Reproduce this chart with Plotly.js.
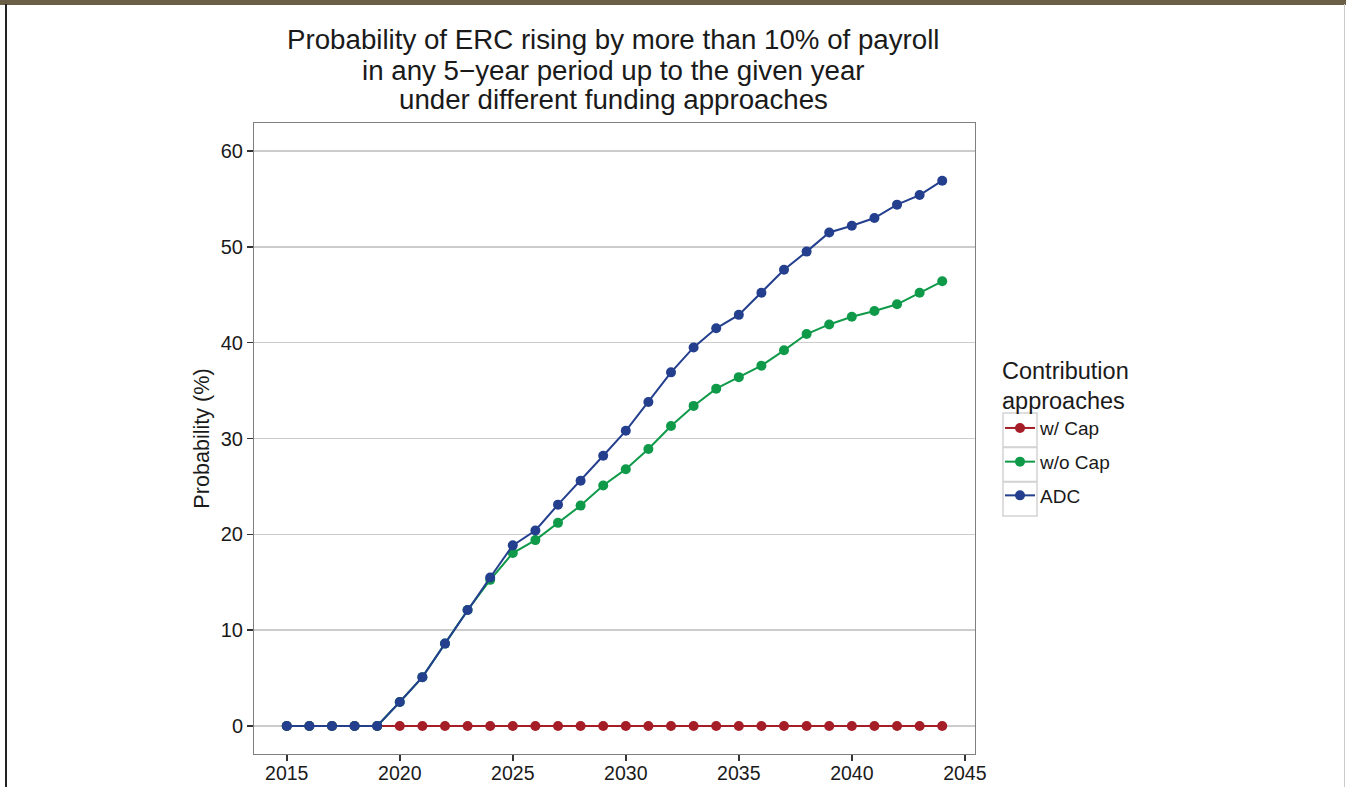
<!DOCTYPE html>
<html>
<head>
<meta charset="utf-8">
<script src="https://cdn.plot.ly/plotly-3.0.1.min.js"></script>
<style>
html,body{margin:0;padding:0;background:#fff;}
#chart{position:absolute;left:0;top:0;width:1346px;height:787px;}
#banner{position:absolute;left:0;top:0;width:1346px;height:5px;background:#6b5f48;z-index:5;}
#lborder{position:absolute;left:5px;top:4px;width:2px;height:783px;background:#222;z-index:5;}
#rborder{position:absolute;left:1344px;top:4px;width:1px;height:783px;background:#ccc;z-index:5;}
</style>
</head>
<body>
<div id="chart"></div>
<div id="banner"></div>
<div id="lborder"></div>
<div id="rborder"></div>
<script>
const years = [2015,2016,2017,2018,2019,2020,2021,2022,2023,2024,2025,2026,2027,2028,2029,2030,2031,2032,2033,2034,2035,2036,2037,2038,2039,2040,2041,2042,2043,2044];
const withCap = [0,0,0,0,0,0,0,0,0,0,0,0,0,0,0,0,0,0,0,0,0,0,0,0,0,0,0,0,0,0];
const withoutCap = [0,0,0,0,0,2.5,5.1,8.6,12.1,15.25,18.05,19.4,21.2,23.0,25.1,26.8,28.9,31.3,33.4,35.2,36.4,37.6,39.2,40.9,41.9,42.7,43.3,44.0,45.2,46.4];
const adc = [0,0,0,0,0,2.5,5.1,8.6,12.1,15.5,18.85,20.4,23.1,25.6,28.2,30.8,33.8,36.9,39.5,41.5,42.9,45.2,47.6,49.5,51.5,52.2,53.0,54.4,55.4,56.9];
const seriesNames = ["w/ Cap","w/o Cap","ADC"];
const seriesColors = ["#a51d26","#0f9a4a","#233f8e"];
const yTicks = [0,10,20,30,40,50,60];
const xTicks = [2015,2020,2025,2030,2035,2040,2045];
const titleLines = ["Probability of ERC rising by more than 10% of payroll","in any 5\u2212year period up to the given year","under different funding approaches"];

const allSeries = [withCap, withoutCap, adc];
const traces = allSeries.map((vals,i)=>({
  x: years, y: vals, name: seriesNames[i], legendgroup: 'g'+i, type: 'scatter', mode: 'lines+markers',
  line: {color: seriesColors[i], width: 2},
  marker: {color: seriesColors[i], size: 10}
}));

// plot area in pixels: left 254, right 975, top 123, bottom 754
const PL = 254, PR = 975, PT = 123, PB = 754;
const px2x = p => (p - PL) / (PR - PL);
const py2y = p => (PB - p) / (PB - PT);

const font = "Liberation Sans, Arial, Helvetica, sans-serif";
const titleY = [40, 71, 100];
const annotations = titleLines.map((t,i)=>({
  text: t, xref: 'paper', yref: 'paper', x: px2x(613), y: py2y(titleY[i]), xanchor: 'center', yanchor: 'middle',
  showarrow: false, font: {family: font, size: 27.7, color: '#1a1a1a'}
}));

const boxTops = [413, 447.5, 482];
const shapes = boxTops.map(t=>({
  type: 'rect', xref: 'paper', yref: 'paper', x0: px2x(1003), x1: px2x(1037), y0: py2y(t), y1: py2y(t+34),
  line: {color: '#d3d3d3', width: 1.5}, fillcolor: 'rgba(0,0,0,0)', layer: 'below'
}));

const layout = {
  width: 1346, height: 787,
  margin: {l: PL, r: 1346 - PR, t: PT, b: 787 - PB},
  paper_bgcolor: '#fff', plot_bgcolor: '#fff',
  font: {family: font, color: '#1a1a1a', size: 19},
  annotations: annotations,
  shapes: shapes,
  xaxis: {range: [2013.55, 2045.45], tickvals: xTicks, ticktext: xTicks.map(String), ticks: 'outside', ticklen: 6, tickcolor: '#333', tickwidth: 1.5,
          showgrid: false, zeroline: false, showline: true, mirror: true, linecolor: '#7f7f7f', linewidth: 1,
          ticklabelstandoff: -4,
          tickfont: {size: 19.5, color: '#1a1a1a'}},
  yaxis: {range: [-2.92, 62.92], tickvals: yTicks, ticks: 'outside', ticklen: 6, tickcolor: '#333', tickwidth: 1.5,
          showgrid: true, gridcolor: '#cccccc', gridwidth: 1.5, zeroline: false, showline: true, mirror: true, linecolor: '#7f7f7f', linewidth: 1,
          tickfont: {size: 20, color: '#1a1a1a'},
          title: {text: "Probability (%)", font: {size: 21.6, color: '#1a1a1a'}, standoff: 5}},
  legend: {x: px2x(1000), xanchor: 'left', y: py2y(348), yanchor: 'top', bgcolor: 'rgba(0,0,0,0)',
           title: {text: "Contribution<br>approaches", font: {size: 23.5, color: '#1a1a1a'}},
           font: {size: 19, color: '#1a1a1a'}, traceorder: 'grouped', tracegroupgap: 6, itemwidth: 30},
  showlegend: true
};
Plotly.newPlot('chart', traces, layout, {displayModeBar: false, staticPlot: true});
</script>
</body>
</html>
